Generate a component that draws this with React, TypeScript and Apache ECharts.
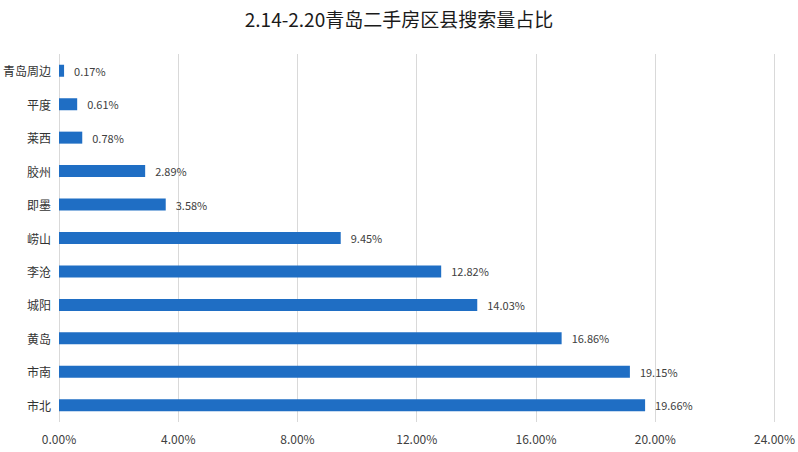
import React, { useEffect, useRef } from "react";
import * as echarts from "echarts";

const categories = ["青岛周边", "平度", "莱西", "胶州", "即墨", "崂山", "李沧", "城阳", "黄岛", "市南", "市北"];
const values = [0.17, 0.61, 0.78, 2.89, 3.58, 9.45, 12.82, 14.03, 16.86, 19.15, 19.66];
const titleText = "2.14-2.20青岛二手房区县搜索量占比";

export default function App() {
  const ref = useRef<HTMLDivElement>(null);
  useEffect(() => {
    const chart = echarts.init(ref.current!, null, { renderer: "svg" });
    const font = "'Microsoft YaHei', 'Noto Sans CJK SC', 'DejaVu Sans', sans-serif";
    chart.setOption({
      animation: false,
      backgroundColor: "#ffffff",
      title: {
        text: titleText,
        left: "center",
        top: 4,
        textStyle: { fontSize: 19, fontWeight: "normal", color: "#1a1a1a", fontFamily: font },
      },
      grid: { left: 58, right: 23, top: 54, bottom: 30, containLabel: false },
      xAxis: {
        type: "value",
        min: 0,
        max: 24,
        interval: 4,
        axisLine: { show: false },
        axisTick: { show: false },
        splitLine: { show: true, lineStyle: { color: "#d9d9d9", width: 1 } },
        axisLabel: {
          formatter: (v: number) => v.toFixed(2) + "%",
          color: "#404040",
          fontSize: 12,
          fontFamily: font,
          margin: 10,
        },
      },
      yAxis: {
        type: "category",
        inverse: true,
        data: categories,
        axisLine: { show: false },
        axisTick: { show: false },
        axisLabel: { color: "#333", fontSize: 12, fontFamily: font, margin: 8 },
      },
      series: [
        {
          type: "bar",
          data: values,
          barWidth: 12,
          itemStyle: { color: "#1f6ec4" },
          label: {
            show: true,
            position: "right",
            distance: 10,
            formatter: (p: any) => p.value.toFixed(2) + "%",
            color: "#404040",
            fontSize: 11,
            fontFamily: font,
          },
        },
      ],
    });
    return () => chart.dispose();
  }, []);
  return <div ref={ref} style={{ width: 798, height: 452, position: "absolute", left: 0, top: 0 }} />;
}
